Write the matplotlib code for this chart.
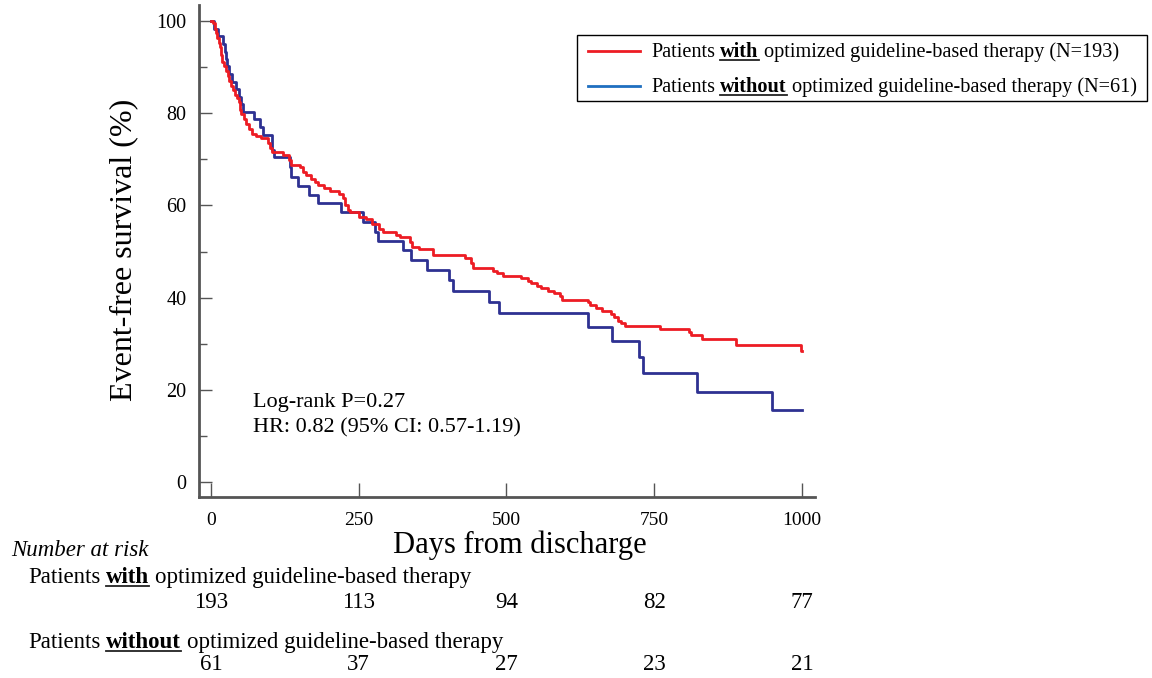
import numpy as np
import matplotlib
matplotlib.use("Agg")
import matplotlib.pyplot as plt
from matplotlib.lines import Line2D

plt.rcParams['font.family'] = ['Liberation Serif', 'DejaVu Serif']

# Kaplan-Meier steps (day, survival % after the step)
with_t = [0, 3, 6, 9, 11, 13, 15, 17, 19, 22, 25, 28, 31, 34, 38, 41, 44, 47, 49, 51,
          55, 60, 64, 69, 76, 84, 97, 100, 104, 122, 132, 135, 150, 156, 161, 170, 176,
          181, 192, 201, 216, 224, 227, 231, 236, 250, 262, 272, 285, 291, 313, 320, 337,
          340, 352, 376, 430, 440, 444, 478, 484, 494, 524, 536, 542, 552, 558, 570, 580,
          590, 594, 638, 642, 652, 662, 676, 682, 688, 694, 700, 760, 808, 812, 830, 888,
          998, 1000]
with_s = [100, 99.5, 98.4, 97.4, 96.4, 95.3, 94.3, 92.7, 91.2, 90.2, 89.1, 88.1, 87.0,
          86.0, 85.0, 84.0, 83.4, 82.4, 80.8, 79.8, 78.8, 77.7, 76.7, 75.6, 75.1, 74.6,
          73.6, 72.5, 71.5, 70.9, 69.9, 68.8, 68.3, 67.2, 66.7, 65.7, 65.1, 64.4, 63.7,
          63.2, 62.6, 61.6, 60.1, 59.0, 58.5, 57.5, 57.0, 55.9, 55.0, 54.2, 53.6, 53.2,
          52.1, 50.9, 50.5, 49.2, 48.5, 47.5, 46.5, 45.8, 45.3, 44.7, 44.2, 43.6, 43.1,
          42.6, 42.0, 41.5, 41.0, 40.4, 39.6, 39.0, 38.4, 37.8, 37.0, 36.4, 35.8, 35.0,
          34.4, 33.9, 33.2, 32.6, 31.9, 31.0, 29.7, 28.5, 28.5]

without_t = [0, 5, 12, 20, 23, 25, 27, 31, 36, 42, 47, 50, 54, 72, 83, 88, 103, 106, 134,
             136, 148, 165, 181, 220, 257, 278, 283, 325, 338, 365, 403, 410, 471, 488,
             638, 678, 724, 731, 823, 949, 1000]
without_s = [100, 98.4, 96.7, 95.1, 93.4, 91.8, 90.2, 88.5, 86.9, 85.2, 83.6, 82.0, 80.3,
             78.7, 77.0, 75.4, 72.1, 70.5, 68.4, 66.2, 64.3, 62.3, 60.5, 58.5, 56.5, 54.3,
             52.4, 50.3, 48.2, 46.0, 43.8, 41.5, 39.1, 36.6, 33.7, 30.7, 27.2, 23.6, 19.6,
             15.6, 15.6]

risk_days = [0, 250, 500, 750, 1000]
risk_with = [193, 113, 94, 82, 77]
risk_without = [61, 37, 27, 23, 21]

red = '#ed1c24'
blue = '#2e3192'
W, H = 1152, 678

fig = plt.figure(figsize=(W / 100, H / 100), dpi=100)
ax = fig.add_axes([199 / W, 1 - 497 / H, 616 / W, 492 / H])

ax.step(with_t, with_s, where='post', color=red, lw=2.0, zorder=3)
ax.step(without_t, without_s, where='post', color=blue, lw=2.0, zorder=2)

ax.set_xlim(-20.3, 1022)
ax.set_ylim(-3.25, 103.5)
ax.set_xticks(risk_days)
ax.set_yticks([0, 20, 40, 60, 80, 100])
ax.set_yticks([10, 30, 50, 70, 90], minor=True)
for s in ['top', 'right']:
    ax.spines[s].set_visible(False)
for s in ['left', 'bottom']:
    ax.spines[s].set_color('#555555')
    ax.spines[s].set_linewidth(2.0)
ax.tick_params(axis='y', which='major', direction='in', length=9, width=1.0,
               color='#555555', labelsize=14.5, pad=9)
ax.tick_params(axis='y', which='minor', direction='in', length=6, width=1.0, color='#555555')
ax.tick_params(axis='x', direction='in', length=10, width=1.0, color='#555555',
               labelsize=14, pad=11)

ax.set_ylabel('Event-free survival (%)', fontsize=23, va='center')
ax.yaxis.set_label_coords(-0.123, 0.502)
ax.set_xlabel('Days from discharge', fontsize=22, va='center')
ax.xaxis.set_label_coords(0.521, -0.099)

ax.text((253 - 199) / 616, (497 - 402) / 492, 'Log-rank P=0.27', transform=ax.transAxes,
        fontsize=16, va='center')
ax.text((253 - 199) / 616, (497 - 428) / 492, 'HR: 0.82 (95% CI: 0.57-1.19)',
        transform=ax.transAxes, fontsize=16, va='center')

renderer = fig.canvas.get_renderer()


def text_w(s, size, weight='normal'):
    t = fig.text(0, 0, s, fontsize=size, fontweight=weight)
    w = t.get_window_extent(renderer).width
    t.remove()
    return w


def rich(xpx, ypx, parts, size):
    # parts: (text, bold/underlined) pieces joined by single spaces
    sp = text_w('x x', size) - text_w('xx', size)
    x = xpx
    for s, b in parts:
        t = fig.text(x / W, 1 - ypx / H, s, fontsize=size, va='baseline',
                     fontweight='bold' if b else 'normal')
        w = t.get_window_extent(renderer).width
        if b:
            fig.add_artist(Line2D([x / W, (x + w) / W], [1 - (ypx + 3) / H] * 2,
                                  color='#222222', lw=1.3))
        x += w + sp


fig.add_artist(plt.Rectangle((577 / W, 1 - 101 / H), 570 / W, 66 / H, fill=False,
                             ec='black', lw=1.0, transform=fig.transFigure))
fig.add_artist(Line2D([588 / W, 640 / W], [1 - 51 / H] * 2, color=red, lw=2.0))
fig.add_artist(Line2D([588 / W, 640 / W], [1 - 86 / H] * 2, color='#1f6fc0', lw=2.0))
rich(651, 57, [('Patients', False), ('with', True),
               ('optimized guideline-based therapy (N=193)', False)], 14.6)
rich(651, 92, [('Patients', False), ('without', True),
               ('optimized guideline-based therapy (N=61)', False)], 14.6)

fig.text(11 / W, 1 - 551 / H, 'Number at risk', fontsize=16.5, style='italic', va='center')
rich(28, 583, [('Patients', False), ('with', True), ('optimized guideline-based therapy', False)], 16.5)
rich(28, 648, [('Patients', False), ('without', True), ('optimized guideline-based therapy', False)], 16.5)

tr = matplotlib.transforms.blended_transform_factory(ax.transData, fig.transFigure)
for d, a, b in zip(risk_days, risk_with, risk_without):
    fig.text(d, 1 - 602 / H, str(a), transform=tr, ha='center', va='center', fontsize=16.5)
    fig.text(d, 1 - 664 / H, str(b), transform=tr, ha='center', va='center', fontsize=16.5)

fig.savefig('out.png', dpi=100)
